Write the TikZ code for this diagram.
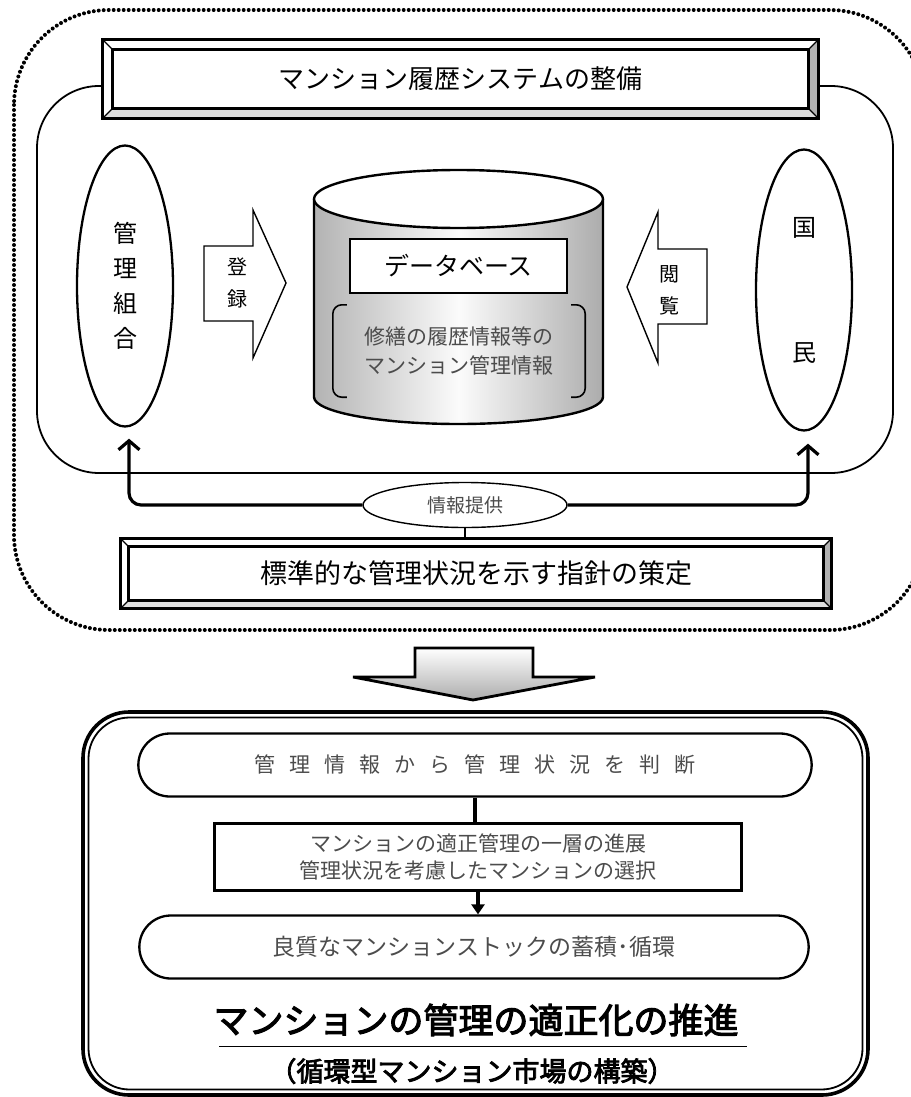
\documentclass[tikz,border=0pt]{standalone}
\usepackage{fontspec}
\newfontfamily\jp{Noto Sans CJK JP}
\newfontfamily\jpbold[FakeBold=3]{Noto Sans CJK JP}
\usetikzlibrary{shapes.geometric,shapes.misc,arrows.meta}
\definecolor{inkgray}{gray}{0.3}

\newcommand\bevelframe[2]{%
  \fill[gray!25] (#1.south west) -- (#1.south east)
    -- ([shift={(-#2,-#2)}]#1.south east) -- ([shift={(#2,-#2)}]#1.south west) -- cycle;
  \fill[gray!60] (#1.north east) -- (#1.south east)
    -- ([shift={(-#2,-#2)}]#1.south east) -- ([shift={(-#2,#2)}]#1.north east) -- cycle;
  \draw[line width=1.3pt] (#1.north west) -- ([shift={(#2,#2)}]#1.north west)
    (#1.south west) -- ([shift={(#2,-#2)}]#1.south west)
    (#1.north east) -- ([shift={(-#2,#2)}]#1.north east)
    (#1.south east) -- ([shift={(-#2,-#2)}]#1.south east);
  \draw[line width=2.8pt] (#1.north west) rectangle (#1.south east);
  \draw[line width=2.8pt] ([shift={(#2,#2)}]#1.north west) rectangle ([shift={(-#2,-#2)}]#1.south east);
}

\begin{document}
\begin{tikzpicture}[x=1pt,y=-1pt,
  bevelbox/.style={fill=white,inner sep=0pt,font=\jp\fontsize{26pt}{30pt}\selectfont},
  person/.style={ellipse,draw,line width=2.3pt,align=center,minimum width=96pt,minimum height=281pt,
    font=\jp\fontsize{24pt}{35pt}\selectfont},
  sidelabel/.style={align=center,font=\jp\fontsize{20pt}{32pt}\selectfont},
  sidearrow/.style={draw,fill=white,line width=1.4pt},
  pill/.style={rounded rectangle,draw,line width=2.3pt,minimum width=680pt,minimum height=63pt,
    text=inkgray,font=\jp\fontsize{21pt}{26pt}\selectfont},
  feed/.style={line width=3.2pt,rounded corners=12pt,-{Straight Barb[length=9pt,width=21pt]}},
  flow/.style={line width=3.4pt}]

  \useasboundingbox (0,0) rectangle (910,1097);

  \draw[line width=4pt,line cap=round,dash pattern=on 0pt off 5pt,rounded corners=95pt]
    (14,10) rectangle (925,630);
  \draw[line width=1.8pt,rounded corners=62pt] (37,86) rectangle (893,473);

  \node[bevelbox,minimum width=715pt,minimum height=78pt] (system) at (460.5,79) {マンション履歴システムの整備};
  \bevelframe{system}{10}

  \node[person] (kumiai) at (125,286) {管\\理\\組\\合};
  \node[person,font=\jp\fontsize{24pt}{125pt}\selectfont] (kokumin) at (804,290) {国\\民};

  \draw[sidearrow] (204,246) -- (253,246) -- (253,210) -- (286,283) -- (253,358) -- (253,321) -- (204,321) -- cycle;
  \node[sidelabel] (toroku) at (237,283) {登\\録};
  \draw[sidearrow] (707,249) -- (658,249) -- (658,212) -- (627,287) -- (658,363) -- (658,324) -- (707,324) -- cycle;
  \node[sidelabel] (etsuran) at (669,290) {閲\\覧};

  \path[left color=gray!60,right color=gray!65,middle color=gray!3]
    (314,199) -- (314,397) arc[start angle=180,end angle=0,x radius=144.5,y radius=27] -- (603,199) -- cycle;
  \draw[line width=2.4pt] (314,199) -- (314,397) arc[start angle=180,end angle=0,x radius=144.5,y radius=27] -- (603,199);
  \draw[line width=2.4pt,fill=white] (458.5,199) ellipse[x radius=144.5,y radius=29];

  \node[draw,fill=white,line width=2pt,minimum width=217pt,minimum height=54pt,
    font=\jp\fontsize{25pt}{30pt}\selectfont] (dbname) at (458.5,266) {データベース};
  \node[minimum width=252pt,minimum height=92pt,align=center,text=inkgray,
    font=\jp\fontsize{21pt}{29pt}\selectfont] (dbinfo) at (459,351) {修繕の履歴情報等の\\マンション管理情報};
  \draw[line width=1.6pt,rounded corners=9pt] ([shift={(14,0)}]dbinfo.north west) -- (dbinfo.north west)
    -- (dbinfo.south west) -- ([shift={(14,0)}]dbinfo.south west);
  \draw[line width=1.6pt,rounded corners=9pt] ([shift={(-14,0)}]dbinfo.north east) -- (dbinfo.north east)
    -- (dbinfo.south east) -- ([shift={(-14,0)}]dbinfo.south east);

  \node[ellipse,draw,fill=white,line width=1.4pt,minimum width=204pt,minimum height=45pt,inner sep=0pt,
    text=inkgray,font=\jp\fontsize{19pt}{22pt}\selectfont] (teikyo) at (465,505) {情報提供};
  \draw[feed,shorten >=11pt] (teikyo.west) -| ([shift={(4,0)}]kumiai.south);
  \draw[feed,shorten >=12pt] (teikyo.east) -| ([shift={(4,0)}]kokumin.south);

  \node[bevelbox,font=\jp\fontsize{27pt}{30pt}\selectfont,minimum width=710pt,minimum height=69pt]
    (shishin) at (476,573.5) {標準的な管理状況を示す指針の策定};
  \bevelframe{shishin}{8}
  \draw[line width=2.4pt] (teikyo.south) -- (teikyo.south |- shishin.north);

  \draw[line width=2.8pt,top color=white,bottom color=gray!65]
    (415,648) -- (533,648) -- (533,677) -- (595,677) -- (473,700) -- (353,677) -- (415,677) -- cycle;

  \draw[line width=3.6pt,rounded corners=46pt] (83,712) rectangle (868,1095);
  \draw[line width=1.8pt,rounded corners=41pt] (88.5,717.5) rectangle (862.5,1089.5);

  \node[pill] (handan) at (475,765) {{\spaceskip=14pt\relax 管 理 情 報 か ら 管 理 状 況 を 判 断}};
  \node[draw,line width=2.6pt,minimum width=527pt,minimum height=67pt,align=center,text=inkgray,
    font=\jp\fontsize{21pt}{27pt}\selectfont] (sentaku) at (478,857)
    {マンションの適正管理の一層の進展\\管理状況を考慮したマンションの選択};
  \node[pill,minimum width=676pt,font=\jp\fontsize{23pt}{26pt}\selectfont] (stock) at (474,947) {良質なマンションストックの蓄積･循環};
  \draw[flow] (handan.south) -- (handan.south |- sentaku.north);
  \draw[flow,-{Triangle[length=10pt,width=13pt]}] (sentaku.south) -- (sentaku.south |- stock.north);

  \node[font=\jpbold\fontsize{35pt}{40pt}\selectfont,inner sep=0pt] (suishin) at (476,1020) {マンションの管理の適正化の推進};
  \draw[line width=1.8pt] ([shift={(6,10)}]suishin.south west) -- ([shift={(8,10)}]suishin.south east);
  \node[font=\jpbold\fontsize{27pt}{30pt}\selectfont,inner sep=0pt] (kochiku) at (472,1071) {（循環型マンション市場の構築）};
\end{tikzpicture}
\end{document}
